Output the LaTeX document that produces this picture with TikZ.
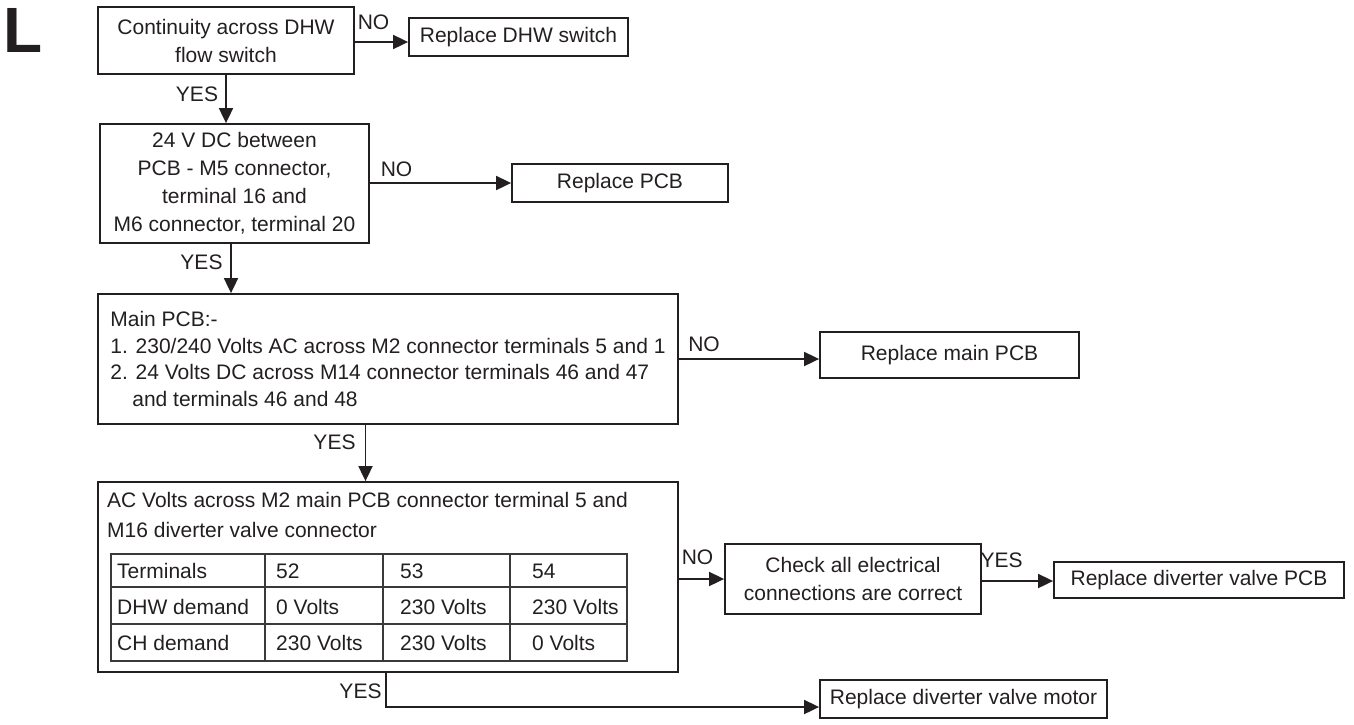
\documentclass[tikz,border=0pt]{standalone}
\usepackage{fontspec}
\setmainfont{Liberation Sans}
\usetikzlibrary{arrows.meta}
\definecolor{ink}{HTML}{231F20}
\definecolor{gridc}{HTML}{3A3A3A}
\begin{document}
\begin{tikzpicture}[x=1pt,y=-1pt,
  every node/.style={text=ink, font=\fontsize{21}{28}\selectfont},
  box/.style={draw=ink, line width=1.8pt, inner sep=0pt, align=center},
  lbl/.style={inner sep=0pt},
  arr/.style={draw=ink, line width=1.8pt, -{Triangle[length=15pt,width=14pt]}},
  tline/.style={draw=gridc, line width=1.3pt},
  cell/.style={anchor=base west, inner sep=0pt}]
\useasboundingbox (0,0) rectangle (1354,724);

\node[inner sep=0pt, font=\fontsize{64}{64}\selectfont\bfseries] (L) at (23,30) {L};

% boxes
\node[box, minimum width=256pt, minimum height=67pt] (b1) at (226,40.5) {Continuity across DHW\\flow switch};
\node[box, minimum width=219pt, minimum height=38pt] (b2) at (518.5,37) {Replace DHW switch};
\node[box, minimum width=269pt, minimum height=119pt] (b3) at (234.5,183.5) {24 V DC between\\PCB - M5 connector,\\terminal 16 and\\M6 connector, terminal 20};
\node[box, minimum width=216pt, minimum height=38pt] (b4) at (620,183) {Replace PCB};
\node[box, align=left, minimum width=580pt, minimum height=130pt, font=\fontsize{21}{26.7}\selectfont] (b5) at (388,359) {Main PCB:-\\1. 230/240 Volts AC across M2 connector terminals 5 and 1\\2. 24 Volts DC across M14 connector terminals 46 and 47\\\hspace*{22pt}and terminals 46 and 48};
\node[box, minimum width=259pt, minimum height=46pt] (b6) at (949.5,355) {Replace main PCB};
\node[box, minimum width=580pt, minimum height=190pt] (b7) at (388,577) {};
\node[box, minimum width=256pt, minimum height=70pt] (b8) at (853,579) {Check all electrical\\connections are correct};
\node[box, minimum width=290pt, minimum height=36pt] (b9) at (1199,580) {Replace diverter valve PCB};
\node[box, minimum width=287pt, minimum height=38pt] (b10) at (963.5,699) {Replace diverter valve motor};

% text inside box 7
\node[cell] (t1) at (107,507.5) {AC Volts across M2 main PCB connector terminal 5 and};
\node[cell] (t2) at (107,537.5) {M16 diverter valve connector};

% table
\draw[tline] (111,554) rectangle (627,661);
\draw[tline] (111,587) -- (627,587);
\draw[tline] (111,624) -- (627,624);
\draw[tline] (265,554) -- (265,661);
\draw[tline] (383,554) -- (383,661);
\draw[tline] (510,554) -- (510,661);
\node[cell] (c11) at (117,578) {Terminals};
\node[cell] (c12) at (276,578) {52};
\node[cell] (c13) at (400,578) {53};
\node[cell] (c14) at (532,578) {54};
\node[cell] (c21) at (117,614) {DHW demand};
\node[cell] (c22) at (276,614) {0 Volts};
\node[cell] (c23) at (400,614) {230 Volts};
\node[cell] (c24) at (532,614) {230 Volts};
\node[cell] (c31) at (117,650.5) {CH demand};
\node[cell] (c32) at (276,650.5) {230 Volts};
\node[cell] (c33) at (400,650.5) {230 Volts};
\node[cell] (c34) at (532,650.5) {0 Volts};

% labels
\node[lbl] (y1) at (197,94) {YES};
\node[lbl] (n1) at (373.5,22) {NO};
\node[lbl] (y2) at (201.5,262.5) {YES};
\node[lbl] (n2) at (396.5,169.5) {NO};
\node[lbl] (n3) at (704,344.5) {NO};
\node[lbl] (y3) at (334.5,442) {YES};
\node[lbl] (n4) at (697.5,557) {NO};
\node[lbl] (y4) at (1001.5,560) {YES};
\node[lbl] (y5) at (360.5,691.5) {YES};

% connectors
\draw[arr] (b1.south) -- (b3.north -| b1.south);
\draw[arr] (b3.south -| 231,0) -- (b5.north -| 231,0);
\draw[arr] (b5.south -| 365.5,0) -- (b7.north -| 365.5,0);
\draw[arr] (b1.east |- 0,42) -- (b2.west |- 0,42);
\draw[arr] (b3.east |- 0,183) -- (b4.west |- 0,183);
\draw[arr] (b5.east |- 0,359) -- (b6.west |- 0,359);
\draw[arr] (b7.east |- 0,579) -- (b8.west |- 0,579);
\draw[arr] (b8.east |- 0,581) -- (b9.west |- 0,581);
\draw[arr] (b7.south -| 386,0) |- (b10.west |- 0,707);
\end{tikzpicture}
\end{document}
